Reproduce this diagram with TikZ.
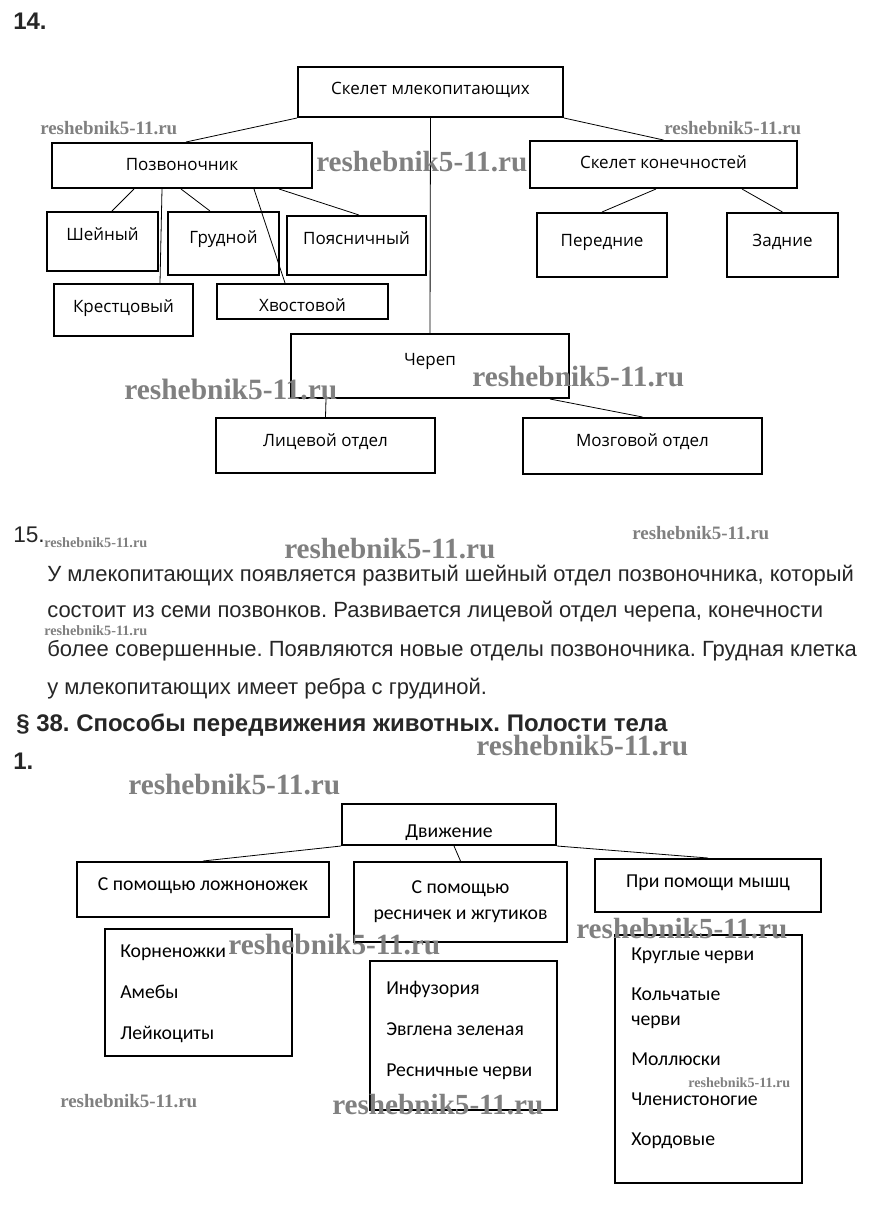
\documentclass[tikz,border=0pt]{standalone}
\usepackage{fontspec}
\setmainfont{Liberation Sans}
\newfontfamily\boxfont{Open Sans}
\newfontfamily\movefont{Carlito}
\newfontfamily\wmfont{Liberation Serif}
\usetikzlibrary{calc}
\newcommand{\wm}[1]{\resizebox{#1}{!}{\wmfont\bfseries reshebnik5-11.ru}}
\frenchspacing

\begin{document}
\begin{tikzpicture}[x=0.75pt, y=-0.75pt,
    box/.style={draw, line width=1.5pt, inner sep=0pt},
    boxsize/.style 2 args={minimum width=#1*0.75pt, minimum height=#2*0.75pt},
    lift/.style 2 args={text height=#1, text depth=#2},
    skel/.style={box, font=\boxfont\fontsize{12.75}{15}\selectfont, lift={15pt}{#1}},
    move/.style={box, font=\movefont\fontsize{14.8}{18}\selectfont},
    items/.style={font=\movefont\fontsize{14.8}{18}\selectfont, align=left, anchor=base west, inner sep=0pt},
    link/.style={line width=0.6pt},
    wmark/.style={text=black!50, inner sep=0pt, anchor=west},
    para/.style={font=\fontsize{16.5}{20}\selectfont, text=black!85, anchor=base west, inner sep=0pt},
    head/.style={font=\bfseries\fontsize{18}{20}\selectfont, text=black!85, anchor=base west, inner sep=0pt}]
    \useasboundingbox (0,0) rectangle (874,1232);

    \node[head] (n14) at (13,29) {14.};
    \node[skel=12pt, boxsize={265}{50}] (skel) at (430.5,92) {Скелет млекопитающих};
    \node[skel=8.25pt, boxsize={260}{45}] (pozv) at (182,165.5) {Позвоночник};
    \node[skel=9.75pt, boxsize={267}{47}] (konech) at (663.5,164.5) {Скелет конечностей};
    \node[skel=17.25pt, boxsize={111}{59}] (sheyn) at (102.5,241.5) {Шейный};
    \node[skel=15.75pt, boxsize={111}{63}] (grud) at (223.5,243.5) {Грудной};
    \node[skel=17.25pt, boxsize={139}{59}] (poyas) at (356.5,245.5) {Поясничный};
    \node[skel=12pt, boxsize={139}{52}] (krest) at (123.5,310) {Крестцовый};
    \node[skel=0pt, boxsize={171}{35}] (khvost) at (302.5,301.5) {Хвостовой};
    \node[skel=13.5pt, boxsize={130}{64}] (pered) at (602,245) {Передние};
    \node[skel=13.5pt, boxsize={111}{64}] (zadn) at (782.5,245) {Задние};
    \node[skel=16.5pt, boxsize={278}{64}] (cherep) at (430,366) {Череп};
    \node[skel=14.25pt, boxsize={219}{55}] (lits) at (325.5,445.5) {Лицевой отдел};
    \node[skel=15pt, boxsize={239}{56}] (mozg) at (642.5,446) {Мозговой отдел};

    \draw[link] (skel.south west) -- ($(pozv.north west)+(135,0)$);
    \draw[link] (skel.south east) -- (konech.north);
    \draw[link] (skel.south) -- (cherep.north);
    \draw[link] ($(pozv.south west)+(83,0)$) -- ($(sheyn.north west)+(66,0)$);
    \draw[link] ($(pozv.south west)+(111,0)$) -- ($(krest.north west)+(107,0)$);
    \draw[link] ($(pozv.south west)+(130,0)$) -- ($(grud.north west)+(43,0)$);
    \draw[link] ($(pozv.south west)+(203,0)$) -- ($(khvost.north west)+(69,0)$);
    \draw[link] ($(pozv.south west)+(228,0)$) -- ($(poyas.north west)+(73,0)$);
    \draw[link] ($(konech.south west)+(127,0)$) -- (pered.north);
    \draw[link] ($(konech.south west)+(213,0)$) -- (zadn.north);
    \draw[link] ($(cherep.south west)+(36,0)$) -- (lits.north);
    \draw[link] ($(cherep.south west)+(260,0)$) -- (mozg.north);

    \node[anchor=base west, inner sep=0pt, font=\fontsize{17}{18}\selectfont, text=black!85] (n15) at (13,542) {15.};
    \node[para] (line1) at (47,581) {У млекопитающих появляется развитый шейный отдел позвоночника, который};
    \node[para] (line2) at (47,617) {состоит из семи позвонков. Развивается лицевой отдел черепа, конечности};
    \node[para] (line3) at (47,656) {более совершенные. Появляются новые отделы позвоночника. Грудная клетка};
    \node[para] (line4) at (47,694) {у млекопитающих имеет ребра с грудиной.};
    \node[head] (par38) at (16,731) {§ 38. Способы передвижения животных. Полости тела};
    \node[head] (n1) at (13,769) {1.};

    \node[move, boxsize={214}{41}, lift={22.5pt}{3.75pt}] (dvizh) at (449,824.5) {Движение};
    \node[move, boxsize={252}{55}, lift={15pt}{14.25pt}] (lozh) at (203,889.5) {С помощью ложноножек};
    \node[move, boxsize={213}{80}, align=center] (resn) at (460.5,902) {С помощью\\[1.5pt]ресничек и жгутиков};
    \node[move, boxsize={226}{53}, lift={15pt}{12.75pt}] (myshts) at (708,885.5) {При помощи мышц};
    \node[box, boxsize={187}{127}] (lozhlist) at (198.5,992.5) {};
    \node[box, boxsize={187}{149}] (resnlist) at (463.5,1035.5) {};
    \node[box, boxsize={187}{248}] (myshlist) at (708.5,1059) {};
    \node[items] (lozhitems) at (120,1039) {Корненожки\\[12.75pt]Амебы\\[12.75pt]Лейкоциты};
    \node[items] (resnitems) at (386,1076) {Инфузория\\[12.75pt]Эвглена зеленая\\[12.75pt]Ресничные черви};
    \node[items] (myshitems) at (631,1145) {Круглые черви\\[12pt]Кольчатые\\[0.75pt]черви\\[12pt]Моллюски\\[11.5pt]Членистоногие\\[12pt]Хордовые};

    \draw[link] (dvizh.south west) -- (lozh.north);
    \draw[link] ($(dvizh.south west)+(113,0)$) -- (resn.north);
    \draw[link] (dvizh.south east) -- (myshts.north);

    \node[wmark] (wm1) at (40,128) {\wm{102.75pt}};
    \node[wmark] (wm2) at (316,162) {\wm{158.25pt}};
    \node[wmark] (wm3) at (664,128) {\wm{102.75pt}};
    \node[wmark] (wm4) at (124,389) {\wm{159.75pt}};
    \node[wmark] (wm5) at (472,377) {\wm{159pt}};
    \node[wmark] (wm6) at (44,543) {\wm{77.25pt}};
    \node[wmark] (wm7) at (632,533) {\wm{102.75pt}};
    \node[wmark] (wm8) at (284,549) {\wm{158.25pt}};
    \node[wmark] (wm9) at (44,631) {\wm{77.25pt}};
    \node[wmark] (wm10) at (476,746) {\wm{159pt}};
    \node[wmark] (wm11) at (128,785) {\wm{159pt}};
    \node[wmark] (wm12) at (228,945) {\wm{159pt}};
    \node[wmark] (wm13) at (576,929) {\wm{158.25pt}};
    \node[wmark] (wm14) at (60,1101) {\wm{102.75pt}};
    \node[wmark] (wm15) at (332,1105) {\wm{158.25pt}};
    \node[wmark] (wm16) at (688,1083) {\wm{76.5pt}};
\end{tikzpicture}
\end{document}
